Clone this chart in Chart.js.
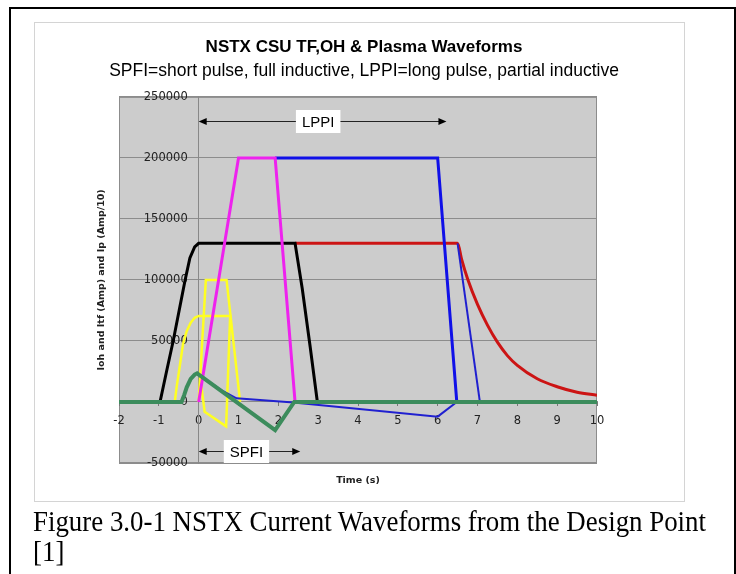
<!DOCTYPE html>
<html>
<head>
<meta charset="utf-8">
<script src="https://cdn.jsdelivr.net/npm/chart.js@4.4.1/dist/chart.umd.min.js"></script>
<style>
  html, body { margin: 0; padding: 0; background: #fff; }
  body { width: 736px; height: 574px; overflow: hidden; position: relative; }
  #outer { position: absolute; left: 9px; top: 7px; width: 727px; height: 600px; border: 2px solid #000; border-bottom: none; box-sizing: border-box; }
  #frame { position: absolute; left: 34px; top: 22px; width: 651px; height: 480px; border: 1px solid #d4d4d4; box-sizing: border-box; }
  #chart { position: absolute; left: 0; top: 0; }
  #caption { position: absolute; left: 33px; top: 506px; font-family: "Liberation Serif", "Times New Roman", serif; font-size: 29px; line-height: 30px; color: #000; white-space: nowrap; transform-origin: 0 0; }
</style>
</head>
<body>
<div id="outer"></div>
<div id="frame"></div>
<canvas id="chart" width="736" height="574"></canvas>
<div id="caption"><span id="cap1">Figure 3.0-1 NSTX Current Waveforms from the Design Point</span><br>[1]</div>
<script>
// axis ticks
var xTicks = [-2, -1, 0, 1, 2, 3, 4, 5, 6, 7, 8, 9, 10];
var yTicks = [-50000, 0, 50000, 100000, 150000, 200000, 250000];

// waveforms, time (s) / current
var blackT = [-0.97, -0.8, -0.64, -0.49, -0.34, -0.22, -0.1, 0, 2.42, 2.6, 2.8, 2.98];
var blackI = [0, 26000, 50000, 75000, 100000, 118000, 127000, 130000, 130000, 93000, 45000, 0];

var redT = [2.42, 6.5, 6.6, 6.75, 7.0, 7.25, 7.5, 7.75, 8.0, 8.5, 9.0, 9.5, 10];
var redI = [130000, 130000, 117000, 101000, 80000, 63000, 49000, 38000, 30000, 19000, 12500, 8000, 5500];

var magentaT = [0, 1.0, 1.92, 2.42];
var magentaI = [0, 200000, 200000, 0];

var blueT = [1.92, 6.0, 6.48];
var blueI = [200000, 200000, 0];

var ipT = [-0.04, 0.6, 0.95, 2.38, 6.0, 6.48];
var ipI = [23500, 9000, 3000, -500, -12000, 0];

var tfT = [6.5, 7.06];
var tfI = [130000, 0];

var greenT = [-2, -0.43, -0.36, -0.3, -0.2, -0.1, -0.04, 1.92, 2.4, 10];
var greenI = [0, 0, 6000, 12000, 19000, 22500, 23500, -23000, 0, 0];

var yellowT = [-0.6, -0.55, -0.49, -0.39, -0.3, -0.2, -0.1, 0, 0.79, 0.69, 0.15, 0.03];
var yellowI = [0, 13000, 26000, 48000, 58000, 65000, 69000, 70500, 70500, -20000, -8000, 23000];

var yellow2T = [0.0, 0.18, 0.70, 1.04];
var yellow2I = [0, 100000, 100000, 0];

// arrow notes
var noteLabels = ['LPPI', 'SPFI'];
var noteFrom = [0, 0];
var noteTo = [6.22, 2.55];
var noteLevel = [230000, -40000];
var noteAt = [3.0, 1.2];

function pts(t, v) {
  var out = [];
  for (var i = 0; i < t.length; i++) out.push({x: t[i], y: v[i]});
  return out;
}

function line(label, t, v, color, width, order, extra) {
  var ds = {
    label: label, data: pts(t, v), borderColor: color, borderWidth: width,
    showLine: true, pointRadius: 0, fill: false, tension: 0, order: order
  };
  for (var k in (extra || {})) ds[k] = extra[k];
  return ds;
}

var plotBackground = {
  id: 'plotBackground',
  beforeDraw: function(chart) {
    var a = chart.chartArea, ctx = chart.ctx;
    ctx.save();
    ctx.fillStyle = '#cccccc';
    ctx.fillRect(a.left, a.top, a.right - a.left, a.bottom - a.top);
    ctx.strokeStyle = '#8c8c8c';
    ctx.lineWidth = 1;
    ctx.strokeRect(a.left + 0.5, a.top + 0.5, a.right - a.left - 1, a.bottom - a.top - 1);
    ctx.restore();
  }
};

var arrowNotes = {
  id: 'arrowNotes',
  afterDatasetsDraw: function(chart) {
    var xs = chart.scales.x, ys = chart.scales.y, ctx = chart.ctx;
    ctx.save();
    for (var i = 0; i < noteLabels.length; i++) {
      var x1 = xs.getPixelForValue(noteFrom[i]);
      var x2 = xs.getPixelForValue(noteTo[i]);
      var y = Math.round(ys.getPixelForValue(noteLevel[i])) + 0.5;
      ctx.strokeStyle = '#222';
      ctx.lineWidth = 1;
      ctx.beginPath(); ctx.moveTo(x1 + 4, y); ctx.lineTo(x2 - 4, y); ctx.stroke();
      ctx.fillStyle = '#000';
      ctx.beginPath(); ctx.moveTo(x1, y); ctx.lineTo(x1 + 8, y - 3.5); ctx.lineTo(x1 + 8, y + 3.5); ctx.closePath(); ctx.fill();
      ctx.beginPath(); ctx.moveTo(x2, y); ctx.lineTo(x2 - 8, y - 3.5); ctx.lineTo(x2 - 8, y + 3.5); ctx.closePath(); ctx.fill();
      ctx.font = '15px "Liberation Sans", Arial, sans-serif';
      var cx = xs.getPixelForValue(noteAt[i]);
      var w = ctx.measureText(noteLabels[i]).width + 12;
      ctx.fillStyle = '#fff';
      ctx.fillRect(cx - w / 2, y - 11.5, w, 23);
      ctx.fillStyle = '#000';
      ctx.textAlign = 'center';
      ctx.textBaseline = 'middle';
      ctx.fillText(noteLabels[i], cx, y + 1);
    }
    ctx.restore();
  }
};

Chart.defaults.font.family = '"DejaVu Sans", Verdana, sans-serif';

var chart = new Chart(document.getElementById('chart'), {
  type: 'scatter',
  data: {
    datasets: [
      line('Plasma SPFI', greenT, greenI, '#3c8c5c', 4, 0),
      line('Ip LPPI', ipT, ipI, '#2020d0', 2, 1),
      line('TF LPPI', tfT, tfI, '#2020d0', 2, 2),
      line('OH SPFI', magentaT, magentaI, '#ee22ee', 3, 3),
      line('OH LPPI', blueT, blueI, '#1010e8', 3, 4),
      line('TF SPFI', blackT, blackI, '#000000', 3, 5),
      line('TF decay', redT, redI, '#cc1414', 3, 6, {cubicInterpolationMode: 'monotone'}),
      line('SPFI a', yellowT, yellowI, '#ffff22', 2.5, 7),
      line('SPFI b', yellow2T, yellow2I, '#ffff22', 2.5, 8)
    ]
  },
  options: {
    responsive: false,
    animation: false,
    events: [],
    layout: { padding: { left: 0, right: 8, top: 0, bottom: 0 } },
    plugins: {
      legend: { display: false },
      tooltip: { enabled: false },
      title: {
        display: true, text: 'NSTX CSU TF,OH & Plasma Waveforms', color: '#000',
        font: { family: '"Liberation Sans", Arial, sans-serif', size: 17, weight: 'bold' },
        padding: { top: 37, bottom: 0 }
      },
      subtitle: {
        display: true, text: 'SPFI=short pulse, full inductive, LPPI=long pulse, partial inductive', color: '#000',
        font: { family: '"Liberation Sans", Arial, sans-serif', size: 17.5 },
        padding: { top: 3, bottom: 15.5 }
      }
    },
    scales: {
      x: {
        type: 'linear', position: { y: 0 }, min: -2, max: 10,
        afterBuildTicks: function(s) { s.ticks = xTicks.map(function(v) { return {value: v}; }); },
        grid: { drawOnChartArea: false, drawTicks: true, tickLength: 4, color: '#777' },
        border: { color: '#888' },
        ticks: { color: '#222', font: { size: 11.5 }, padding: 8, maxRotation: 0, callback: function(v) { return String(v); } }
      },
      xt: {
        type: 'linear', axis: 'x', position: 'bottom', min: -2, max: 10,
        ticks: { display: false }, grid: { display: false, drawTicks: false }, border: { display: false },
        title: { display: true, text: 'Time (s)', color: '#222', font: { size: 9.5, weight: 'bold' }, padding: { top: 0, bottom: 87.3 } },
        afterFit: function(s) { s.height = 111; }
      },
      y: {
        type: 'linear', position: { x: 0 }, min: -50000, max: 250000,
        afterBuildTicks: function(s) { s.ticks = yTicks.map(function(v) { return {value: v}; }); },
        grid: { color: '#8c8c8c', tickLength: 4 },
        border: { color: '#888' },
        // labels sit just left of the t=0 axis line
        ticks: { color: '#222', font: { size: 11.5 }, padding: 7, callback: function(v) { return String(v) + '   '; } }
      },
      yt: {
        type: 'linear', axis: 'y', position: 'left', min: -50000, max: 250000,
        ticks: { display: false }, grid: { display: false, drawTicks: false }, border: { display: false },
        title: { display: true, text: 'Ioh and Itf (Amp) and Ip (Amp/10)', color: '#222', font: { size: 9.5, weight: 'bold' }, padding: { top: 95.5, bottom: 0 } },
        afterFit: function(s) { s.width = 119; }
      },
      yr: {
        type: 'linear', axis: 'y', position: 'right', min: -50000, max: 250000,
        ticks: { display: false }, grid: { display: false, drawTicks: false }, border: { display: false },
        afterFit: function(s) { s.width = 131; }
      }
    }
  },
  plugins: [plotBackground, arrowNotes]
});

var cap = document.getElementById('cap1');
var capW = cap.getBoundingClientRect().width;
document.getElementById('caption').style.transform = 'scaleX(' + (673 / capW) + ')';
</script>
</body>
</html>
